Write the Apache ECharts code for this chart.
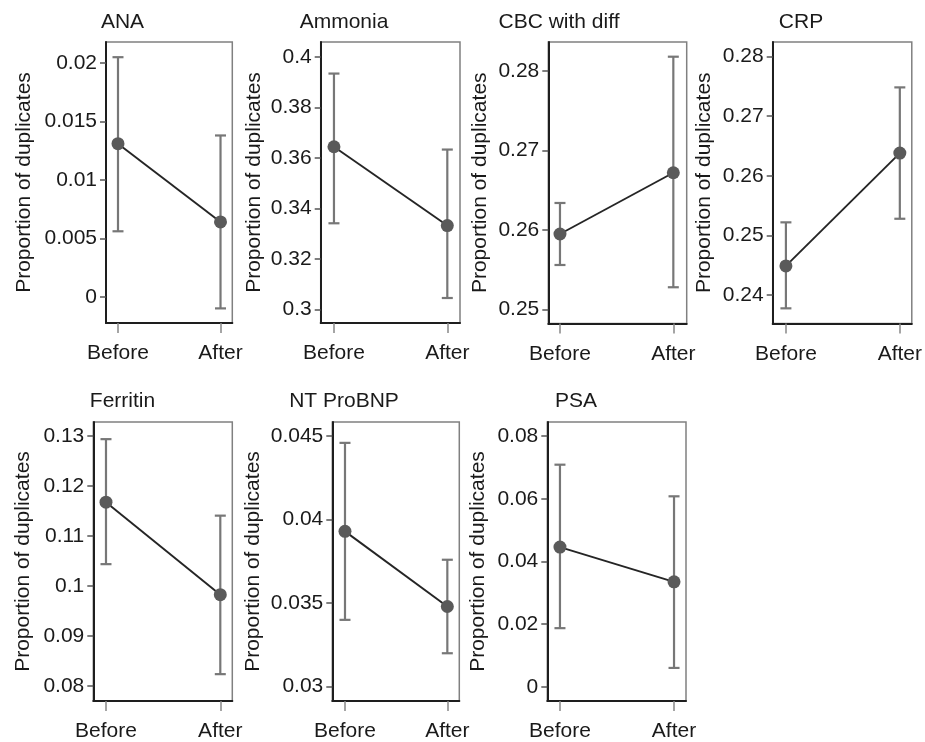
<!DOCTYPE html>
<html>
<head>
<meta charset="utf-8">
<script src="https://cdn.jsdelivr.net/npm/echarts@6/dist/echarts.min.js"></script>
<style>
  html, body { margin: 0; padding: 0; background: #fff; }
  #chart { width: 925px; height: 742px; }
</style>
</head>
<body>
<div id="chart"></div>
<script>
// ---- data ----
const categories = ['Before', 'After'];
const panelNames = ['ANA', 'Ammonia', 'CBC with diff', 'CRP', 'Ferritin', 'NT ProBNP', 'PSA'];
const yAxisTitle = 'Proportion of duplicates';

const meanValues = [
  [0.0131, 0.0064],
  [0.3645, 0.3333],
  [0.2595, 0.2672],
  [0.2449, 0.2638],
  [0.1168, 0.0983],
  [0.0393, 0.0348],
  [0.0446, 0.0335]
];
const lowerValues = [
  [0.0056, -0.0010],
  [0.3342, 0.3046],
  [0.2556, 0.2528],
  [0.2378, 0.2528],
  [0.1044, 0.0824],
  [0.0340, 0.0320],
  [0.0187, 0.0060]
];
const upperValues = [
  [0.0205, 0.0138],
  [0.3935, 0.3634],
  [0.2634, 0.2818],
  [0.2522, 0.2748],
  [0.1294, 0.1141],
  [0.0446, 0.0376],
  [0.0709, 0.0608]
];
const yTickValues = [
  [0, 0.005, 0.01, 0.015, 0.02],
  [0.3, 0.32, 0.34, 0.36, 0.38, 0.4],
  [0.25, 0.26, 0.27, 0.28],
  [0.24, 0.25, 0.26, 0.27, 0.28],
  [0.08, 0.09, 0.1, 0.11, 0.12, 0.13],
  [0.03, 0.035, 0.04, 0.045],
  [0, 0.02, 0.04, 0.06, 0.08]
];
const yRanges = [
  [-0.00225, 0.0218],
  [0.2947, 0.406],
  [0.24824, 0.28365],
  [0.23526, 0.2824],
  [0.07703, 0.13283],
  [0.02914, 0.04585],
  [-0.00456, 0.08453]
];

// ---- layout (positions / sizes) ----
const gridBoxes = [
  { left: 106,   top: 42,  width: 126.3, height: 281 },
  { left: 320.7, top: 42,  width: 139.3, height: 281 },
  { left: 548.3, top: 42,  width: 138.4, height: 281.5 },
  { left: 772.7, top: 42,  width: 140,   height: 281.5 },
  { left: 93.3,  top: 422, width: 139,   height: 281 },
  { left: 332.3, top: 422, width: 127,   height: 281 },
  { left: 547.3, top: 422, width: 138.7, height: 281 }
];
const xExtents = [
  [-0.117, 1.115], [-0.117, 1.112], [-0.103, 1.118], [-0.116, 1.105],
  [-0.111, 1.105], [-0.124, 1.117], [-0.111, 1.105]
];
const nameGaps = [71, 56, 58, 58, 60, 69, 59];
const titlePos = [[122.5, 22], [344, 22], [559, 22], [801, 22], [122.5, 401], [344, 401], [576, 401]];

const FONT = "'Liberation Sans', Arial, sans-serif";
const FS = 21;
const TXT = '#1a1a1a';

const grids = [], xAxes = [], yAxes = [], series = [], graphics = [];

panelNames.forEach((name, i) => {
  grids.push(Object.assign({
    show: true, borderColor: '#808080', borderWidth: 1.5, backgroundColor: 'transparent'
  }, gridBoxes[i]));

  xAxes.push({
    type: 'value', gridIndex: i,
    min: xExtents[i][0], max: xExtents[i][1],
    splitLine: { show: false },
    axisLine: { show: true, onZero: false, lineStyle: { color: '#1e1e1e', width: 2 } },
    axisTick: { show: true, customValues: [0, 1], length: 10, lineStyle: { color: '#888', width: 1.5 } },
    axisLabel: {
      customValues: [0, 1], margin: 20,
      formatter: v => categories[Math.round(v)],
      fontFamily: FONT, fontSize: FS, color: TXT
    }
  });

  yAxes.push({
    type: 'value', gridIndex: i,
    min: yRanges[i][0], max: yRanges[i][1],
    splitLine: { show: false },
    axisLine: { show: true, onZero: false, lineStyle: { color: '#1e1e1e', width: 2 } },
    axisTick: { show: true, customValues: yTickValues[i], length: 6, lineStyle: { color: '#555', width: 1.5 } },
    axisLabel: {
      customValues: yTickValues[i], margin: 9,
      formatter: v => String(+(+v).toFixed(6)),
      fontFamily: FONT, fontSize: FS, color: TXT
    },
    name: yAxisTitle, nameLocation: 'middle', nameGap: nameGaps[i],
    nameTextStyle: { fontFamily: FONT, fontSize: FS, color: TXT }
  });

  const barData = categories.map((c, k) => [k, lowerValues[i][k], upperValues[i][k]]);
  series.push({
    type: 'custom', xAxisIndex: i, yAxisIndex: i, z: 2,
    coordinateSystem: 'cartesian2d',
    encode: { x: 0, y: [1, 2] },
    data: barData,
    renderItem: (params, api) => {
      const x = api.value(0);
      const pLo = api.coord([x, api.value(1)]);
      const pHi = api.coord([x, api.value(2)]);
      const hw = 5.5;
      const st = { stroke: '#777777', lineWidth: 2.2 };
      return {
        type: 'group',
        children: [
          { type: 'line', shape: { x1: pLo[0], y1: pLo[1], x2: pHi[0], y2: pHi[1] }, style: st },
          { type: 'line', shape: { x1: pHi[0] - hw, y1: pHi[1], x2: pHi[0] + hw, y2: pHi[1] }, style: st },
          { type: 'line', shape: { x1: pLo[0] - hw, y1: pLo[1], x2: pLo[0] + hw, y2: pLo[1] }, style: st }
        ]
      };
    },
    silent: true
  });

  series.push({
    type: 'line', xAxisIndex: i, yAxisIndex: i, z: 3,
    data: categories.map((c, k) => [k, meanValues[i][k]]),
    symbol: 'circle', symbolSize: 13, showSymbol: true,
    itemStyle: { color: '#5a5a5a' },
    lineStyle: { color: '#252525', width: 1.9 },
    animation: false, silent: true
  });

  graphics.push({
    type: 'text', x: titlePos[i][0], y: titlePos[i][1],
    style: { text: name, font: FS + 'px ' + FONT, fill: TXT, textAlign: 'center', textVerticalAlign: 'middle' }
  });
});

const chart = echarts.init(document.getElementById('chart'), null, { renderer: 'canvas' });
chart.setOption({
  animation: false,
  backgroundColor: '#ffffff',
  grid: grids, xAxis: xAxes, yAxis: yAxes, series: series,
  graphic: graphics
});
</script>
</body>
</html>
